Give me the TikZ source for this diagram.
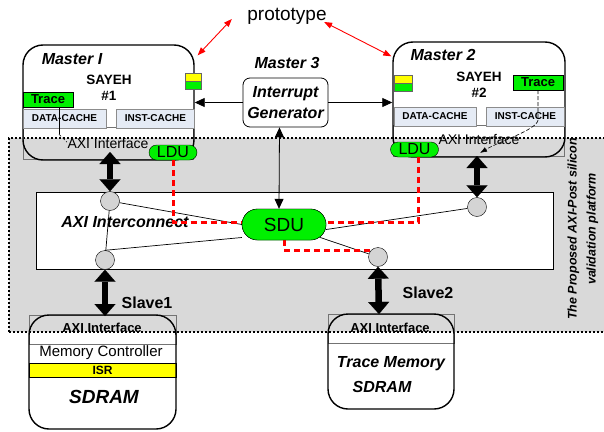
\documentclass[tikz,border=0pt]{standalone}
\usepackage{fontspec}
\setmainfont{Liberation Sans}
\usetikzlibrary{arrows.meta, positioning, shapes.misc}
\definecolor{platgray}{RGB}{217,217,217}
\definecolor{cachefill}{RGB}{229,235,245}
\definecolor{unitgreen}{RGB}{0,240,0}
\definecolor{regyellow}{RGB}{255,255,0}
\definecolor{portgray}{RGB}{212,212,212}

\begin{document}
\begin{tikzpicture}[
    x=1pt, y=-1pt,
    corebox/.style={draw, line width=1.4pt, rounded corners=20pt},
    backrect/.style={draw=black!55, line width=0.5pt},
    cache/.style={
        draw=black!45, fill=cachefill, inner sep=0pt,
        minimum height=19pt, font=\fontsize{10}{10}\selectfont\bfseries
    },
    tracebox/.style={
        draw, fill=unitgreen, inner sep=0pt,
        minimum width=50pt, minimum height=15pt,
        font=\fontsize{13}{13}\selectfont\bfseries
    },
    flag/.style={draw=black!60, minimum width=16pt, minimum height=8pt, inner sep=0pt},
    unit/.style={
        draw, rounded rectangle, fill=unitgreen, inner sep=0pt,
        minimum width=48pt, minimum height=15pt,
        font=\fontsize{16}{16}\selectfont
    },
    cpu/.style={align=center, font=\fontsize{13.5}{16}\selectfont\bfseries},
    port/.style={circle, draw, fill=portgray, minimum size=19pt, inner sep=0pt},
    wire/.style={line width=0.7pt},
    bus/.style={
        {Triangle[length=12pt,width=21pt,line width=0.1pt]}-{Triangle[length=12pt,width=21pt,line width=0.1pt]},
        line width=6.5pt
    },
    sig/.style={-{Triangle[length=10pt,width=9pt]}, line width=0.8pt},
    twoway/.style={{Triangle[length=10pt,width=9pt]}-{Triangle[length=10pt,width=9pt]}, line width=0.8pt},
    dbg/.style={red, line width=3pt, dash pattern=on 6pt off 4pt},
    protoarrow/.style={{Triangle[length=8pt,width=6pt]}-{Triangle[length=8pt,width=6pt]}, red, line width=0.9pt},
    title/.style={font=\fontsize{16}{20.5}\selectfont\bfseries\itshape},
    lbl/.style={font=\fontsize{16}{16}\selectfont\bfseries},
    axi/.style={font=\fontsize{14}{14}\selectfont, inner sep=0pt},
    axis/.style={font=\fontsize{13}{13}\selectfont\bfseries, inner sep=0pt}
]
\useasboundingbox (0,0) rectangle (604,431);

\node[fill=platgray, draw, line width=1.5pt, dash pattern=on 2pt off 2pt,
      minimum width=605pt, minimum height=194pt] (platform) at (311.5,235) {};
\node[rotate=90, align=center, font=\fontsize{12.5}{19}\selectfont\bfseries\itshape]
    (platname) at (583,229) {The Proposed AXI-Post silicon\\validation platform};

\node[font=\fontsize{19}{19}\selectfont] (proto) at (287,16) {prototype};

% Master I
\node[backrect, minimum width=170pt, minimum height=32pt] (m1base) at (108,143) {};
\node[corebox, minimum width=171pt, minimum height=115pt] (m1) at (108.5,102.5) {};
\node[title] (m1name) at (72,59) {Master I};
\node[cpu] (m1cpu) at (109,87.5) {SAYEH\\\#1};
\node[tracebox] (tr1) at (48,99.5) {Trace};
\node[cache, minimum width=83pt] (dc1) at (64.5,118.5) {DATA-CACHE};
\node[cache, minimum width=78pt, right=10pt of dc1] (ic1) {INST-CACHE};
\node[flag, fill=regyellow] (y1) at (193,77) {};
\node[flag, fill=unitgreen, below=0pt of y1] (g1) {};
\node[axi] (m1axi) at (108,144) {AXI Interface};
\draw[wire, line width=0.5pt] ([xshift=11pt]tr1.south) -- ++(0,27) coordinate (tr1end);
\draw[line width=0.5pt, dash pattern=on 3pt off 2pt] (tr1end) -- ++(8,8);
\coordinate (m1port) at (110,152);

% Master 2
\node[backrect, minimum width=171pt, minimum height=31pt] (m2base) at (478.5,140.5) {};
\node[corebox, minimum width=172pt, minimum height=115pt] (m2) at (479,99.5) {};
\node[title] (m2name) at (443,55) {Master 2};
\node[cpu] (m2cpu) at (479,84.5) {SAYEH\\\#2};
\node[tracebox] (tr2) at (538,82.5) {Trace};
\node[cache, minimum width=82pt] (dc2) at (435,116.5) {DATA-CACHE};
\node[cache, minimum width=78pt, right=10pt of dc2] (ic2) {INST-CACHE};
\node[flag, fill=regyellow, minimum width=18pt] (y2) at (403,79) {};
\node[flag, fill=unitgreen, minimum width=18pt, below=0pt of y2] (g2) {};
\node[axi] (m2axi) at (479,140) {AXI Interface};
\coordinate (m2port) at (477,156);
\draw[line width=0.6pt, dash pattern=on 4pt off 2pt, -{Latex[length=7pt,width=5pt]}]
    (tr2.south) -- ++(0,30) .. controls +(-2,10) and +(20,-12) .. ([shift={(3,-3)}]m2port);

% Master 3
\node[draw, rounded corners=7pt, fill=white, line width=0.8pt, align=center, title,
      minimum width=85pt, minimum height=49pt] (ig) at (285.5,102.5) {Interrupt\\Generator};
\node[title] (m3name) at (287,63) {Master 3};

% interconnect
\node[draw, fill=white, line width=0.8pt, minimum width=517pt, minimum height=77pt]
    (icon) at (294.5,230.5) {};
\node[title] (iconname) at (125,222) {AXI Interconnect};

\coordinate (sdupos) at (284,224.5);
\node[port] (c1) at (110,201) {};
\node[port] (c2) at (105,260) {};
\node[port] (c3) at (477,207) {};
\node[port] (c4) at (378,257) {};
\node[unit, minimum width=84pt, minimum height=31pt, font=\fontsize{19}{19}\selectfont]
    (sdu) at (sdupos) {SDU};

\draw[wire] (c1) -- (sdu.west);
\draw[wire] (c1) -- (c2);
\draw[wire] (c2.north) -- ([yshift=-13pt]sdu.west);
\draw[wire] (c3) -- ([yshift=-5pt]sdu.east);
\draw[wire] (c4) -- ([shift={(-6,13)}]sdu.east);

\node[unit] (ldu1) at (173,152.5) {LDU};
\node[unit] (ldu2) at (414.5,149.5) {LDU};

\draw[dbg] (ldu1.south) |- ([yshift=2pt]sdu.west);
\draw[dbg] ([xshift=4pt]ldu2.south) |- ([yshift=2pt]sdu.east);
\draw[dbg] (sdu.south) |- (c4.north west);
\node[unit, minimum width=84pt, minimum height=31pt, font=\fontsize{19}{19}\selectfont]
    at (sdupos) {SDU};

\draw[sig] (ig.west) -- (ig.west -| m1.east);
\draw[sig] (ig.east) -- (ig.east -| m2.west);
\draw[twoway] ([xshift=-6pt]ig.south) -- ([xshift=-5pt]sdu.north);

% slaves
\coordinate (s1port) at (105,316);
\coordinate (s2port) at (379,314);
\node[backrect, minimum width=147pt, minimum height=29pt] (s1base) at (102.5,329.5) {};
\node[draw, fill=regyellow, minimum width=147pt, minimum height=14pt, inner sep=0pt,
      font=\fontsize{12}{12}\selectfont\bfseries] (isr) at (102.5,370) {ISR};
\node[corebox, minimum width=147pt, minimum height=114pt] (s1) at (102.5,372) {};
\node[axis] (s1axi) at (102,328) {AXI Interface};
\node[font=\fontsize{15}{15}\selectfont] (s1mc) at (101,353) {Memory Controller};
\node[font=\fontsize{19}{19}\selectfont\bfseries\itshape] (s1mem) at (104,397) {SDRAM};

\node[backrect, minimum width=126pt, minimum height=29pt] (s2base) at (391,328.5) {};
\node[corebox, minimum width=126pt, minimum height=95pt] (s2) at (391,361.5) {};
\node[axis] (s2axi) at (390,328) {AXI Interface};
\node[title] (s2mem) at (391,364) {Trace Memory};
\node[title] (s2sd) at (382,387) {SDRAM};

\draw[bus] (m1port) -- (c1.north);
\draw[bus] (m2port) -- (c3.north);
\draw[bus] (c2.south) -- (s1port);
\draw[bus] (c4.south) -- (s2port);
\node[lbl] (s1name) at (147,303) {Slave1};
\node[lbl] (s2name) at (428,293) {Slave2};

\draw[protoarrow] ([shift={(-12,3)}]proto.west) -- ([shift={(3,11)}]m1.north east);
\draw[protoarrow] ([shift={(-6,6)}]proto.east) -- ([shift={(-1,15)}]m2.north west);

\end{tikzpicture}
\end{document}
